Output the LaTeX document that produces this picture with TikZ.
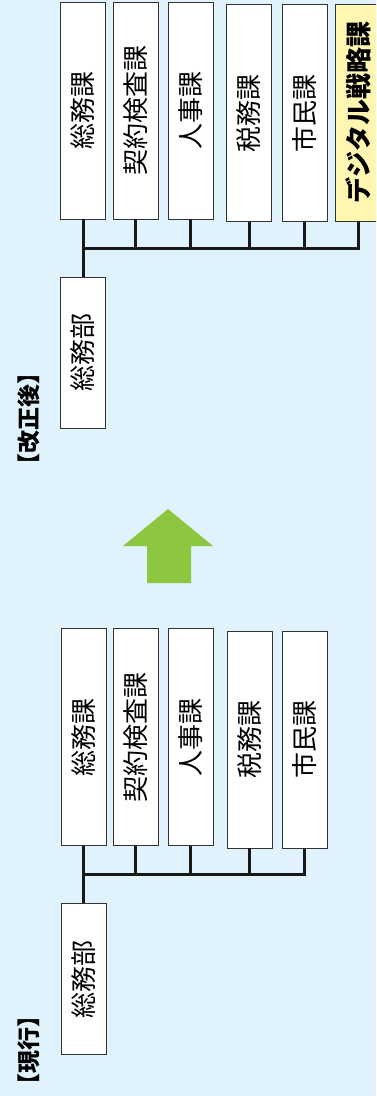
\documentclass[tikz,border=0pt]{standalone}
\usepackage{fontspec}
\setmainfont{Noto Sans CJK JP}
\definecolor{bg}{HTML}{E0F2FB}
\definecolor{arrowgreen}{HTML}{8DC63F}
\definecolor{newyellow}{HTML}{FFF7B1}
\tikzset{
  kabox/.style={draw=black!80, line width=0.9pt, fill=white, rotate=90,
    minimum width=217pt, minimum height=45pt, inner sep=0pt,
    font=\fontsize{26}{26}\selectfont},
  bubox/.style={kabox, minimum width=151pt},
  newbox/.style={kabox, fill=newyellow, font=\fontsize{26}{26}\selectfont\bfseries},
  busline/.style={line width=3pt, black!90},
  periodlabel/.style={rotate=90, inner sep=0pt, font=\fontsize{23}{23}\selectfont\bfseries},
}
\begin{document}
\begin{tikzpicture}[x=1pt,y=-1pt]
  \useasboundingbox (0,0) rectangle (376,1096);
  \fill[bg] (0,0) rectangle (376,1096);
  \clip (0,0) rectangle (376,1096);

  % after the change
  \node[periodlabel] (after) at (29,419) {【改正後】};
  \node[bubox] (bu2) at (83,352.5) {総務部};
  \foreach \n/\x/\y/\t in {1/83/110.5/総務課, 2/135.5/110.5/契約検査課,
                           3/190.5/110.5/人事課, 4/249/113/税務課,
                           5/304.5/113/市民課} {
    \node[kabox] (new\n) at (\x,\y) {\t};
  }
  \node[newbox] (new6) at (358,112.5) {デジタル戦略課};
  \coordinate (newbus) at (83,248);
  \draw[busline] (new1.west) -- (bu2.east);
  \draw[busline] (newbus) -| (new6.west);
  \foreach \n in {2,...,5} {
    \draw[busline] (new\n.west) -- (new\n.west |- newbus);
  }

  % arrow
  \fill[arrowgreen] (168,509) -- (213,546) -- (191,546) -- (191,583)
    -- (147,583) -- (147,546) -- (123,546) -- cycle;

  % current
  \node[periodlabel] (before) at (29,1050) {【現行】};
  \node[bubox] (bu1) at (83.5,979) {総務部};
  \foreach \n/\x/\y/\t in {1/83.5/737/総務課, 2/135.5/737/契約検査課,
                           3/190.5/737/人事課, 4/249.5/739.5/税務課,
                           5/304.5/739.5/市民課} {
    \node[kabox] (old\n) at (\x,\y) {\t};
  }
  \coordinate (oldbus) at (83.5,874);
  \draw[busline] (old1.west) -- (bu1.east);
  \draw[busline] (oldbus) -| (old5.west);
  \foreach \n in {2,...,4} {
    \draw[busline] (old\n.west) -- (old\n.west |- oldbus);
  }
\end{tikzpicture}
\end{document}
